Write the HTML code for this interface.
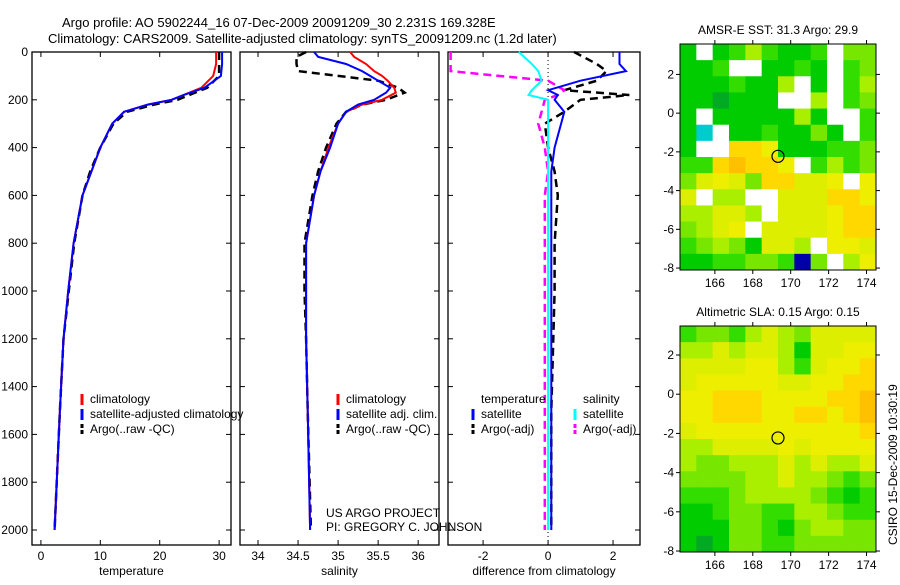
<!DOCTYPE html>
<html><head><meta charset="utf-8"><style>
body{margin:0;background:#fff;}
svg text{font-family:"Liberation Sans",sans-serif;font-size:12px;fill:#000;}
</style></head><body>
<svg id="c" width="900" height="580" xmlns="http://www.w3.org/2000/svg">
<text x="62" y="27" style="font-size:13px">Argo profile: AO 5902244_16 07-Dec-2009 20091209_30 2.231S 169.328E</text>
<text x="48" y="43" style="font-size:13px">Climatology: CARS2009. Satellite-adjusted climatology: synTS_20091209.nc (1.2d later)</text>
</svg>
<script>
// ---- data ----
const depths = [0,50,100,150,180,200,220,250,300,400,500,600,800,1000,1200,1500,2000];
const tempClim = [29.5,29.5,29,27,24,22,18,14,12,10,8.5,7,5.5,4.6,3.8,3.2,2.3];
const tempSat = [30.5,30.5,30.3,27.5,24,22,18,14,12,10,8.5,7,5.5,4.6,3.8,3.2,2.3];
const tempArgo = [30,30,30,28,25,23,19,14.5,12.2,10,8.3,7,5.6,4.7,3.8,3.2,2.3];
const salDepths = [0,20,50,80,100,120,150,170,200,220,250,300,400,500,600,800,1000,1200,1500,2000];
const salClim = [35.15,35.2,35.35,35.45,35.55,35.62,35.7,35.72,35.55,35.3,35.1,35.0,34.88,34.78,34.7,34.6,34.6,34.6,34.62,34.65];
const salSat = [34.7,34.75,35.1,35.3,35.4,35.5,35.65,35.6,35.45,35.25,35.1,35.0,34.9,34.78,34.7,34.6,34.6,34.6,34.62,34.65];
const salArgo = [34.6,34.48,34.48,34.5,35.0,35.5,35.75,35.83,35.6,35.3,35.1,34.98,34.85,34.75,34.68,34.58,34.58,34.6,34.62,34.66];
const diffDepths = [0,50,80,120,160,180,200,250,300,400,500,600,800,1000,1500,2000];
const diffTSat = [2.2,2.2,2.4,1.0,0.0,0.3,0.2,0.5,0.4,0.2,0.1,0.1,0.1,0.1,0.1,0.1];
const diffTArgo = [0.8,1.5,1.8,1.5,0.5,2.5,1.0,0.5,-0.1,0.0,0.2,0.3,0.2,0.2,0.1,0.1];
const diffSSat = [-0.9,-0.5,-0.3,-0.2,-0.5,-0.6,0.0,0.0,0.0,0.0,0.0,0.0,0.0,0.0,0.0,0.0];
const diffSArgo = [-3,-3,-3,0.0,0.5,0.3,-0.1,-0.2,-0.3,-0.1,0.0,-0.1,-0.1,-0.1,-0.1,-0.1];
const depthTicks = [0,200,400,600,800,1000,1200,1400,1600,1800,2000];
const tempTicks = [0,10,20,30];
const salTicks = [34,34.5,35,35.5,36];
const diffTicks = [-2,0,2];
const lonTicks = [166,168,170,172,174];
const latTicks = [2,0,-2,-4,-6,-8];
const sstRows = ["1w1242112w33","112ww1121w23","1112114w1w24","110111ww4w23","1w1111141ww2","1cw1121131w2","1ww776111223","2278776w2423","3565377556w6","5w44ww555776","44554w555677","3456w5555677","23431554w665","1122332b3w46"];
const slaRows = ["233245435555","445455415566","555566425667","566666556677","667776666778","667776677678","566666666667","445555656666","433444545445","333344544323","222344443212","112332244322","111332134433","101332233333"];
// ---- helpers ----
const svg=document.getElementById('c');
const NS='http://www.w3.org/2000/svg';
function mk(tag,attrs,parent){const e=document.createElementNS(NS,tag);for(const k in attrs)e.setAttribute(k,attrs[k]);(parent||svg).appendChild(e);return e;}
const top0=52, bot=545;
const yD=d=>52+d*(478/2000);
function panel(name,x0,x1,vmin,vmax,ticks,xlabel,showY){
  const g=mk('g',{});
  
  
  const xs=v=>x0+(v-vmin)/(vmax-vmin)*(x1-x0);
  const r=mk('rect',{x:x0,y:top0,width:x1-x0,height:bot-top0,fill:'none',stroke:'#000','stroke-width':1.3},g);
  
  
  depthTicks.forEach(d=>{const y=yD(d);
    mk('line',{x1:x0,x2:x0+5,y1:y,y2:y,stroke:'#000'},g);mk('line',{x1:x1,x2:x1-5,y1:y,y2:y,stroke:'#000'},g);
    if(showY){const t=mk('text',{x:x0-4,y:y+4,'text-anchor':'end'},g);t.textContent=d;
      
      }
  });
  ticks.forEach(v=>{const x=xs(v);
    mk('line',{x1:x,x2:x,y1:bot,y2:bot-5,stroke:'#000'},g);mk('line',{x1:x,x2:x,y1:top0,y2:top0+5,stroke:'#000'},g);
    const t=mk('text',{x:x,y:bot+15,'text-anchor':'middle'},g);t.textContent=v;
    
    
  });
  const l=mk('text',{x:(x0+x1)/2,y:bot+30,'text-anchor':'middle'},g);l.textContent=xlabel;
  
  
  return xs;
}
function line(xs,dd,vals,color,dash,name,w){
  const pts=dd.map((d,i)=>xs(vals[i]).toFixed(1)+','+yD(d).toFixed(1)).join(' ');
  const p=mk('polyline',{points:pts,fill:'none',stroke:color,'stroke-width':w||2,'stroke-dasharray':dash||'none'});
  
  
}
function legend(x,y,color,label,dash){
  mk('line',{x1:x,x2:x,y1:y-9,y2:y+2,stroke:color,'stroke-width':3,'stroke-dasharray':dash||'none'});
  const t=mk('text',{x:x+8,y:y});t.textContent=label;
  
  
}
// Panel 1
const xT=panel('temperature-panel',32,231,-1.5,32,tempTicks,'temperature',true);
line(xT,depths,tempArgo,'#000','8,5','temp-argo-line',2.5);
line(xT,depths,tempClim,'#f00',null,'temp-climatology-line');
line(xT,depths,tempSat,'#00f',null,'temp-satellite-line');
legend(82,403,'#f00','climatology');legend(82,418,'#00f','satellite-adjusted climatology');legend(82,433,'#000','Argo(..raw -QC)','4,2');
// Panel 2
const xS=panel('salinity-panel',240,439,33.775,36.26,salTicks,'salinity',false);
line(xS,salDepths,salArgo,'#000','8,5','sal-argo-line',2.5);
line(xS,salDepths,salClim,'#f00',null,'sal-climatology-line');
line(xS,salDepths,salSat,'#00f',null,'sal-satellite-line');
legend(338,403,'#f00','climatology');legend(338,418,'#00f','satellite adj. clim.');legend(338,433,'#000','Argo(..raw -QC)','4,2');
const c1=mk('text',{x:326,y:517});c1.textContent='US ARGO PROJECT';


const c2=mk('text',{x:326,y:531});c2.textContent='PI: GREGORY C. JOHNSON';


// Panel 3
const xD=panel('difference-panel',448,640,-3.08,2.83,diffTicks,'difference from climatology',false);
mk('line',{x1:xD(0),x2:xD(0),y1:top0,y2:bot,stroke:'#000','stroke-dasharray':'1,3'});
line(xD,diffDepths,diffTArgo,'#000','8,5','diff-temp-argo-line',2.5);
line(xD,diffDepths,diffSArgo,'#f0f','8,5','diff-sal-argo-line',2.5);
line(xD,diffDepths,diffTSat,'#00f',null,'diff-temp-satellite-line');
line(xD,diffDepths,diffSSat,'#0ff',null,'diff-sal-satellite-line');
const lt=mk('text',{x:481,y:403});lt.textContent='temperature';


const ls=mk('text',{x:583,y:403});ls.textContent='salinity';


legend(473,418,'#00f','satellite');legend(473,433,'#000','Argo(-adj)','4,2');
legend(575,418,'#0ff','satellite');legend(575,433,'#f0f','Argo(-adj)','4,2');
// Maps
const pal={'0':'#00aa22','1':'#00cc00','2':'#33dd00','3':'#77e600','4':'#aaee00','5':'#ddee00','6':'#eeee00','7':'#ffd800','8':'#ffc000','w':'#ffffff','c':'#00cccc','b':'#0000aa'};
function map(name,y0,y1,latTop,latBot,rows,title){
  const x0=680,x1=876,lonL=164.16,lonR=174.5;
  const g=mk('g',{});
  
  
  const xs=v=>x0+(v-lonL)/(lonR-lonL)*(x1-x0);
  const ys=v=>y0+(latTop-v)/(latTop-latBot)*(y1-y0);
  const nr=rows.length,nc=12,cw=(x1-x0)/nc,ch=(y1-y0)/nr;
  rows.forEach((row,i)=>{[...row].slice(0,nc).forEach((v,j)=>{
    const r=mk('rect',{x:x0+j*cw,y:y0+i*ch,width:cw+0.5,height:ch+0.5,fill:pal[v]||'#fff'},g);
    
    
  });});
  mk('rect',{x:x0,y:y0,width:x1-x0,height:y1-y0,fill:'none',stroke:'#000'},g);
  lonTicks.forEach(v=>{const x=xs(v);mk('line',{x1:x,x2:x,y1:y1,y2:y1+4,stroke:'#000'},g);mk('line',{x1:x,x2:x,y1:y0,y2:y0-4,stroke:'#000'},g);
    const t=mk('text',{x:x,y:y1+17,'text-anchor':'middle'},g);t.textContent=v;
    
    });
  latTicks.forEach(v=>{const y=ys(v);mk('line',{x1:x0,x2:x0-4,y1:y,y2:y,stroke:'#000'},g);mk('line',{x1:x1,x2:x1+4,y1:y,y2:y,stroke:'#000'},g);
    const t=mk('text',{x:x0-6,y:y+4,'text-anchor':'end'},g);t.textContent=v;
    
    });
  const c=mk('circle',{cx:xs(169.33),cy:ys(-2.23),r:6,fill:'none',stroke:'#000','stroke-width':1.2},g);
  
  
  const t=mk('text',{x:(x0+x1)/2,y:y0-10,'text-anchor':'middle'},g);t.textContent=title;
  
  
}
map('sst-map',44,270,3.57,-8.1,sstRows,'AMSR-E SST: 31.3 Argo: 29.9');
map('sla-map',326,552,3.48,-8.05,slaRows,'Altimetric SLA: 0.15 Argo: 0.15');
const st=mk('text',{x:0,y:0,transform:'translate(897,545) rotate(-90)'});st.textContent='CSIRO 15-Dec-2009 10:30:19';


</script>
</body></html>
